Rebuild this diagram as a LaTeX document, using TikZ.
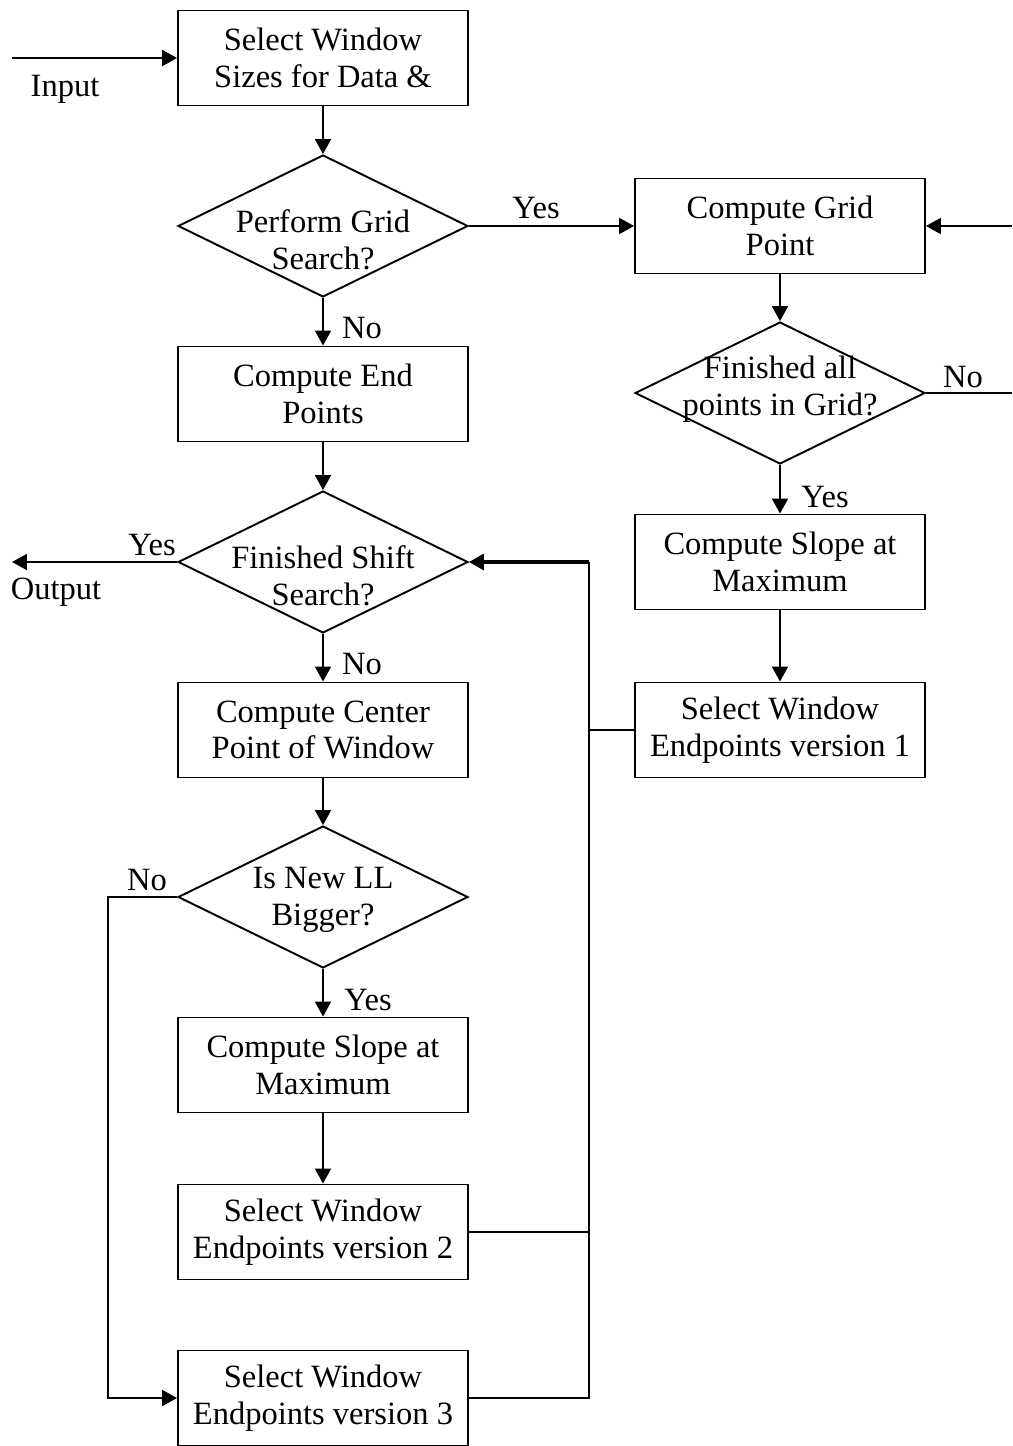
\documentclass[tikz,border=0pt]{standalone}
\usepackage{fontspec}
\setmainfont{Liberation Serif}
\usetikzlibrary{shapes.geometric,arrows.meta}

\begin{document}
\begin{tikzpicture}[x=0.02cm,y=-0.02cm,line width=1.1pt,
  every node/.style={font=\fontsize{18.5}{21}\selectfont},
  box/.style={draw,minimum width=5.8cm,minimum height=1.9cm,align=center,inner sep=0pt},
  decision/.style={draw,diamond,minimum width=5.8cm,minimum height=2.84cm,inner sep=0pt},
  flow/.style={-{Triangle[length=0.3cm,width=0.32cm]}},
  heavy/.style={line width=1.9pt}]
  \useasboundingbox (0,0) rectangle (1012,1446);
  % left column
  \node[box] (sel) at (323,58) {Select Window\\Sizes for Data \&};
  \node[decision,label={[align=center,yshift=-0.28cm]center:Perform Grid\\Search?}] (grid) at (323,226) {};
  \node[box] (endp) at (323,394) {Compute End\\Points};
  \node[decision,label={[align=center,yshift=-0.28cm]center:Finished Shift\\Search?}] (shift) at (323,562) {};
  \node[box] (cen) at (323,730) {Compute Center\\Point of Window};
  \node[decision,label={[align=center,yshift=-0.06cm]center:Is New LL\\Bigger?}] (ll) at (323,897) {};
  \node[box] (slopeb) at (323,1065) {Compute Slope at\\Maximum};
  \node[box] (epb) at (323,1232) {Select Window\\Endpoints version 2};
  \node[box] (epc) at (323,1398) {Select Window\\Endpoints version 3};
  % right column
  \node[box] (cgp) at (780,226) {Compute Grid\\Point};
  \node[decision,label={[align=center,yshift=0.08cm]center:Finished all\\points in Grid?}] (fin) at (780,393) {};
  \node[box] (slopea) at (780,562) {Compute Slope at\\Maximum};
  \node[box] (epa) at (780,730) {Select Window\\Endpoints version 1};
  % free ends and joints
  \coordinate (in) at (12,58);
  \coordinate (out) at (12,562);
  \coordinate (r1) at (1012,226);
  \coordinate (r2) at (1012,393);
  \coordinate (nl) at (108,897);
  \coordinate (jt) at (589,562);
  \coordinate (j1) at (589,730);
  \coordinate (j2) at (589,1232);
  \coordinate (j3) at (589,1398);
  % connectors
  \draw[flow] (in) -- (sel.west);
  \node (input) at (65,89) {Input};
  \draw[flow] (sel) -- (grid);
  \draw[flow] (grid.east) -- (cgp.west);
  \node (y1) at (536,208) {Yes};
  \draw[flow] (grid) -- (endp);
  \node (n1) at (362,328) {No};
  \draw[flow] (r1) -- (cgp.east);
  \draw[flow] (cgp) -- (fin);
  \draw (fin.east) -- (r2);
  \node (n2) at (963,377) {No};
  \draw[flow] (fin) -- (slopea);
  \node (y2) at (825,497) {Yes};
  \draw[flow] (slopea) -- (epa);
  \draw[flow] (endp) -- (shift);
  \draw[flow] (shift.west) -- (out);
  \node (y3) at (152,545) {Yes};
  \node (output) at (56,592) {Output};
  \draw[flow] (shift) -- (cen);
  \node (n3) at (362,664) {No};
  \draw[flow] (cen) -- (ll);
  \draw[flow] (ll.west) -- (nl) |- (epc.west);
  \node (n4) at (147,880) {No};
  \draw[flow] (ll) -- (slopeb);
  \node (y4) at (368,1000) {Yes};
  \draw[flow] (slopeb) -- (epb);
  \draw (epa.west) -- (j1);
  \draw (epb.east) -- (j2);
  \draw (epc.east) -- (j3) -- (jt);
  \draw[flow,heavy] (jt) -- (shift.east);
\end{tikzpicture}
\end{document}
